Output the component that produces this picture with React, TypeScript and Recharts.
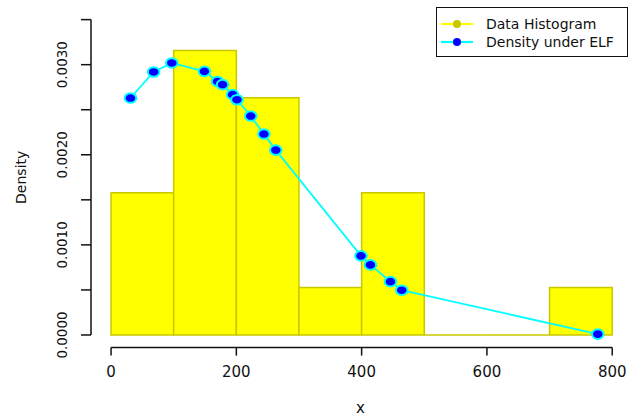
import { ComposedChart, Line, XAxis, YAxis, ReferenceArea, ReferenceLine, Legend } from "recharts";

// histogram bins (width 100, density = count / (n * width))
const binStart = [0, 100, 200, 300, 400, 500, 600, 700];
const binEnd = [100, 200, 300, 400, 500, 600, 700, 800];
const binDensity = [0.001579, 0.003158, 0.002632, 0.000526, 0.001579, 0, 0, 0.000526];

// fitted ELF density at the observed points
const elfX = [31, 68, 97, 149, 170, 178, 194, 201, 223, 244, 263, 399, 414, 446, 464, 777];
const elfDensity = [
  0.00263, 0.002919, 0.003019, 0.002926, 0.002814, 0.002778, 0.002667, 0.002611,
  0.00243, 0.00223, 0.002052, 0.000878, 0.000778, 0.000592, 0.000497, 0.00001,
];

const xTicks = [0, 200, 400, 600, 800];
const yTicks = [0, 0.0005, 0.001, 0.0015, 0.002, 0.0025, 0.003, 0.0035];
const yLabelled = [0, 0.001, 0.002, 0.003];

const legendLabels = ["Data Histogram", "Density under ELF"];
const legendLineColor = ["#ffff00", "#00ffff"];
const legendDotColor = ["#c8c800", "#0000ff"];

const FONT = "'DejaVu Sans', sans-serif";
const INK = "#111";

const elfData = elfX.map((x, i) => ({ x, d: elfDensity[i] }));

function YTick(props: any) {
  const { x, y, payload } = props;
  const v = payload.value;
  if (!yLabelled.some((l) => Math.abs(l - v) < 1e-9)) return <g />;
  const cx = x - 17;
  return (
    <text
      x={cx}
      y={y}
      dy="0.35em"
      textAnchor="middle"
      transform={`rotate(-90 ${cx} ${y})`}
      fontSize={13.5}
      fontFamily={FONT}
      fill={INK}
    >
      {v.toFixed(4)}
    </text>
  );
}

function ElfDot(props: any) {
  const { cx, cy } = props;
  if (cx == null || cy == null) return <g />;
  return <ellipse cx={cx} cy={cy} rx={5.8} ry={4.8} fill="#0000ff" stroke="#00ffff" strokeWidth={2} />;
}

function LegendBox() {
  return (
    <div
      style={{
        width: 192,
        height: 50,
        boxSizing: "border-box",
        border: "1.5px solid #111",
        background: "#fff",
        paddingTop: 6.5,
      }}
    >
      {legendLabels.map((label, i) => (
        <div key={label} style={{ display: "flex", alignItems: "center", height: 18 }}>
          <svg width={32} height={10} style={{ marginLeft: 4, display: "block" }}>
            <line x1={0} y1={5} x2={32} y2={5} stroke={legendLineColor[i]} strokeWidth={2.2} />
            <circle cx={16} cy={5} r={4} fill={legendDotColor[i]} />
          </svg>
          <span style={{ marginLeft: 13, fontSize: 14, fontFamily: FONT, color: INK, lineHeight: "18px", whiteSpace: "nowrap" }}>
            {label}
          </span>
        </div>
      ))}
    </div>
  );
}

export default function App() {
  return (
    <div style={{ position: "absolute", left: 0, top: 0, background: "#fff" }}>
      <ComposedChart width={630} height={416} data={elfData} margin={{ top: 7, right: 0, bottom: 0, left: 0 }}>
        <XAxis
          type="number"
          dataKey="x"
          domain={[-32, 828.4]}
          allowDataOverflow
          ticks={xTicks}
          axisLine={false}
          tickLine={{ stroke: INK, strokeWidth: 1.5 }}
          tickSize={8}
          tickMargin={11}
          height={68.4}
          tick={{ fontSize: 15, fontFamily: FONT, fill: INK }}
          label={{ value: "x", position: "insideBottom", offset: 3, style: { fontSize: 15, fontFamily: FONT, fill: INK } }}
        />
        <YAxis
          type="number"
          domain={[-0.00014, 0.00364]}
          allowDataOverflow
          ticks={yTicks}
          axisLine={false}
          tickLine={{ stroke: INK, strokeWidth: 1.5 }}
          tickSize={10}
          width={91}
          tick={<YTick />}
          label={{
            value: "Density",
            angle: -90,
            position: "insideLeft",
            offset: 21,
            style: { textAnchor: "middle", fontSize: 14, fontFamily: FONT, fill: INK },
          }}
        />
        {/* R-style axis lines that stop at the first and last tick */}
        <ReferenceLine segment={[{ x: -32, y: yTicks[0] }, { x: -32, y: yTicks[yTicks.length - 1] }]} stroke={INK} strokeWidth={1.5} ifOverflow="visible" />
        <ReferenceLine segment={[{ x: xTicks[0], y: -0.00014 }, { x: xTicks[xTicks.length - 1], y: -0.00014 }]} stroke={INK} strokeWidth={1.5} ifOverflow="visible" />
        {binStart.map((b, i) =>
          binDensity[i] > 0 ? (
            <ReferenceArea
              key={b}
              x1={b}
              x2={binEnd[i]}
              y1={0}
              y2={binDensity[i]}
              fill="#ffff00"
              fillOpacity={1}
              stroke="#c8c800"
              strokeWidth={1.5}
            />
          ) : (
            <ReferenceLine key={b} segment={[{ x: b, y: 0 }, { x: binEnd[i], y: 0 }]} stroke="#c8c800" strokeWidth={1.5} />
          )
        )}
        <Line
          type="linear"
          dataKey="d"
          stroke="#00ffff"
          strokeWidth={1.8}
          dot={<ElfDot />}
          activeDot={false}
          isAnimationActive={false}
        />
        <Legend
          layout="horizontal"
          verticalAlign="middle"
          align="center"
          content={<LegendBox />}
          wrapperStyle={{ position: "absolute", left: 436, top: 7, width: "auto", height: "auto" }}
        />
      </ComposedChart>
    </div>
  );
}
